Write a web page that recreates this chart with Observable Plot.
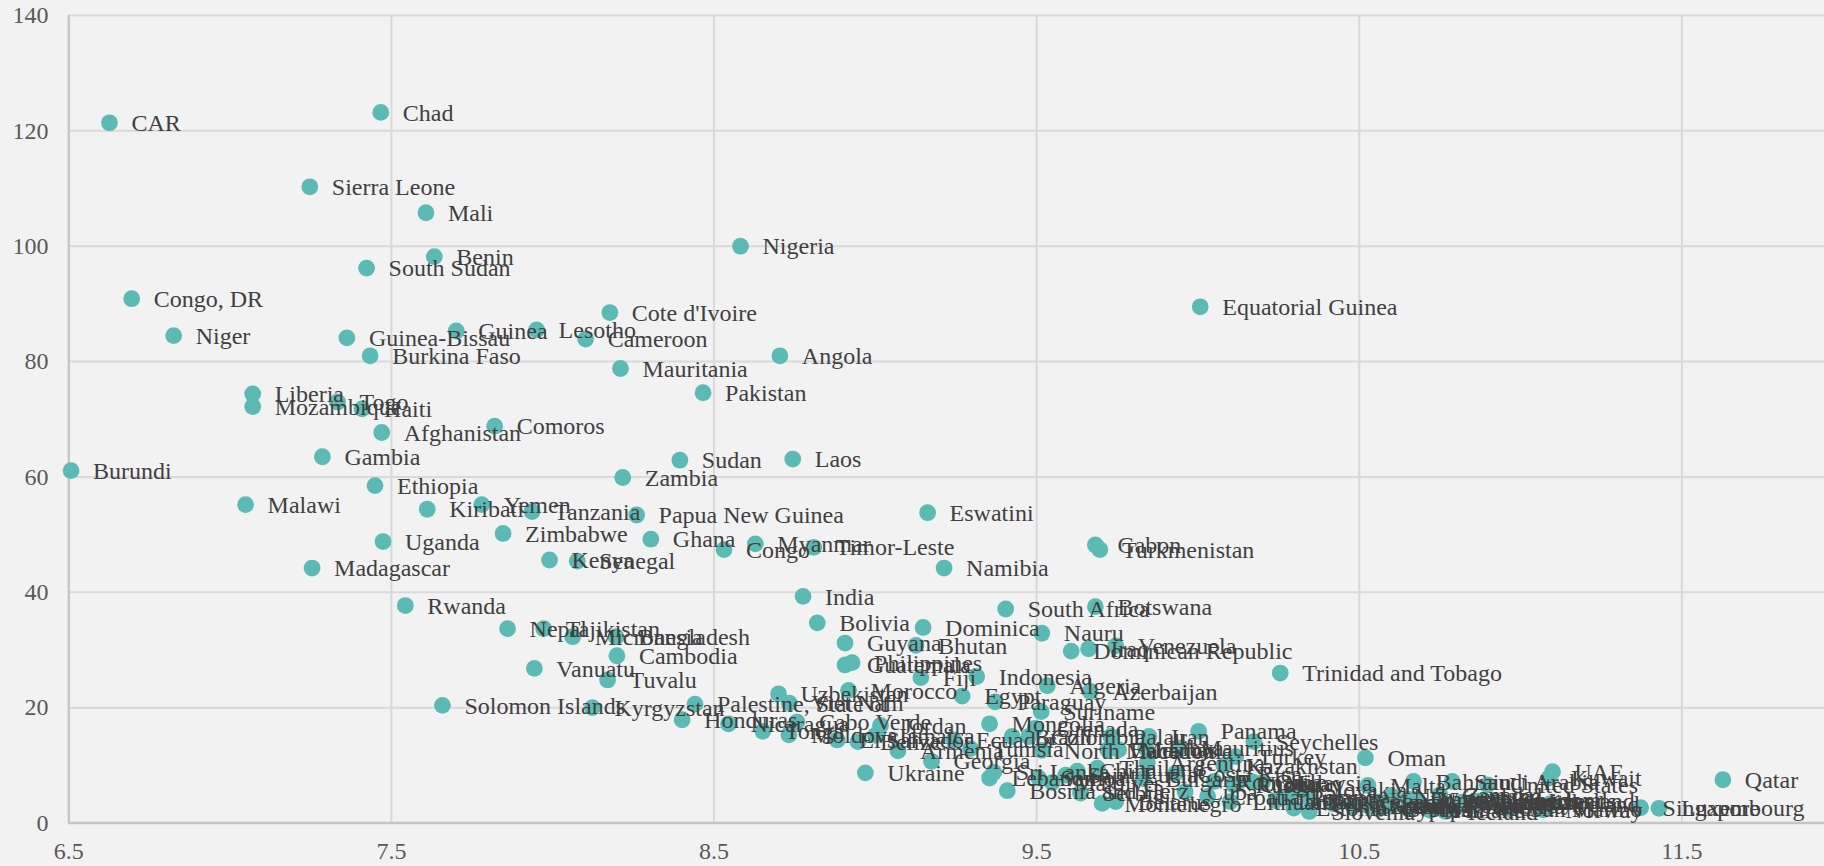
<!DOCTYPE html>
<html><head><meta charset="utf-8">
<script src="https://cdn.jsdelivr.net/npm/d3@7"></script>
<script src="https://cdn.jsdelivr.net/npm/@observablehq/plot@0.6"></script>
<style>html,body{margin:0;padding:0;background:#f2f2f2;overflow:hidden;height:866px}svg{display:block}</style>
</head><body><div id="c"></div>
<script>
const countries = ["CAR","Chad","Sierra Leone","Mali","Benin","South Sudan","Congo, DR","Niger","Guinea-Bissau","Burkina Faso","Guinea","Lesotho","Cameroon","Cote d'Ivoire","Nigeria","Equatorial Guinea","Angola","Mauritania","Pakistan","Liberia","Mozambique","Togo","Haiti","Afghanistan","Comoros","Gambia","Sudan","Laos","Burundi","Zambia","Ethiopia","Malawi","Yemen","Kiribati","Tanzania","Papua New Guinea","Eswatini","Zimbabwe","Uganda","Ghana","Myanmar","Congo","Timor-Leste","Gabon","Turkmenistan","Kenya","Senegal","Madagascar","Namibia","India","Rwanda","South Africa","Botswana","Bolivia","Dominica","Nepal","Tajikistan","Micronesia","Bangladesh","Nauru","Cambodia","Guyana","Bhutan","Iraq","Venezuela","Dominican Republic","Guatemala","Philippines","Vanuatu","Tuvalu","Trinidad and Tobago","Fiji","Indonesia","Algeria","Azerbaijan","Morocco","Uzbekistan","Viet Nam","Egypt","Paraguay","Suriname","Palestine, State of","Kyrgyzstan","Solomon Islands","Honduras","Nicaragua","Tonga","Cabo Verde","Moldova","El Salvador","Belize","Jordan","Jamaica","Armenia","Georgia","Ukraine","Ecuador","Tunisia","Mongolia","Grenada","Brazil","Colombia","North Macedonia","Palau","Iran","Panama","Seychelles","Mauritius","Turkey","Kazakhstan","Argentina","Bahamas","Mexico","Libya","Sri Lanka","Lebanon","Samoa","Maldives","Saint Lucia","China","Thailand","Bosnia and Herz.","Serbia","Montenegro","Belarus","Bulgaria","Costa Rica","Cuba","Romania","Russia","Chile","Uruguay","Malaysia","Croatia","Lithuania","Latvia","Hungary","Poland","Slovakia","Estonia","Slovenia","Greece","Oman","Malta","Portugal","Czechia","Spain","Cyprus","South Korea","Israel","Italy","New Zealand","Japan","France","United Kingdom","Finland","Bahrain","Saudi Arabia","Canada","Belgium","Iceland","Sweden","Germany","Australia","Denmark","Austria","Netherlands","United States","Switzerland","San Marino","Norway","Ireland","UAE","Kuwait","Singapore","Luxembourg","Qatar"];
const logIncome = [6.626,7.467,7.247,7.607,7.633,7.423,6.695,6.825,7.362,7.434,7.701,7.95,8.102,8.177,8.582,10.007,8.704,8.21,8.466,7.07,7.07,7.333,7.409,7.47,7.82,7.286,8.394,8.744,6.507,8.217,7.449,7.048,7.78,7.611,7.936,8.26,9.162,7.846,7.474,8.304,8.628,8.531,8.809,9.682,9.696,7.99,8.076,7.254,9.213,8.776,7.543,9.404,9.682,8.82,9.148,7.86,7.972,8.062,8.196,9.516,8.199,8.906,9.126,9.661,9.745,9.607,8.906,8.928,7.943,8.17,10.255,9.141,9.314,9.533,9.666,8.917,8.70,8.733,9.269,9.371,9.514,8.441,8.123,7.658,8.401,8.545,8.651,8.757,8.732,8.882,8.946,9.016,9.0,9.07,9.174,8.969,9.243,9.295,9.354,9.495,9.424,9.476,9.516,9.73,9.848,10.002,10.173,9.94,10.117,10.08,9.843,9.72,9.754,9.838,9.367,9.354,9.506,9.548,9.59,9.626,9.688,9.409,9.636,9.703,9.745,9.83,9.93,9.96,10.05,10.11,10.17,10.12,10.2,10.03,10.1,10.24,10.26,10.28,10.32,10.297,10.345,10.35,10.519,10.527,10.42,10.48,10.53,10.56,10.56,10.56,10.6,10.6,10.65,10.65,10.68,10.72,10.668,10.788,10.75,10.75,10.767,10.8,10.82,10.82,10.85,10.85,10.87,10.897,10.93,10.96,11.07,11.09,11.099,11.088,11.372,11.429,11.627];
const childMortality = [121.4,123.2,110.3,105.8,98.2,96.2,90.9,84.5,84.1,81.0,85.3,85.5,83.9,88.5,100,89.5,81,78.8,74.6,74.4,72.2,73,71.8,67.7,68.8,63.5,62.9,63.1,61.1,59.9,58.5,55.2,55.2,54.4,54,53.4,53.8,50.2,48.8,49.2,48.4,47.4,47.8,48.2,47.4,45.6,45.4,44.2,44.2,39.3,37.7,37.1,37.5,34.7,33.9,33.7,33.7,32.3,32.3,32.9,29,31.2,30.8,30.2,30.7,29.8,27.4,27.8,26.8,24.8,26,25.2,25.4,23.8,22.8,23,22.4,20.8,22,21,19.3,20.6,20,20.4,17.9,17.2,15.9,17.5,15.3,14.4,14.1,16.9,15.2,12.5,10.7,8.7,14.4,12.9,17.2,16.4,15,15,12.6,15,15,15.9,14.1,13,11.5,10,10.4,12.7,12.7,13,8.8,7.8,7.8,7,8.3,9,9.5,5.6,5.2,3.4,3.7,7.7,8.6,5.4,7.2,6.6,7.1,6.8,7,4.6,3.7,3.9,4.3,4.5,5.7,2.6,2,3.9,11.3,6.5,3.3,2.9,2.9,2.4,3.1,3.6,2.9,4.7,2.5,4.2,4.1,2.2,7.2,7.2,4.9,3.7,2,2.7,3.6,3.6,3.6,3,3.8,6.6,3.8,2.5,2.3,3.3,8.9,7.8,2.65,2.55,7.5];
const xTicks = [6.5,7.5,8.5,9.5,10.5,11.5];
const yTicks = [0,20,40,60,80,100,120,140];
const rows = countries.map((name,i)=>({name,x:logIncome[i],y:childMortality[i]}));

const chart = Plot.plot({
  width:1824,height:866,
  marginLeft:68,marginRight:0,marginTop:15,marginBottom:43.5,
  style:{background:"#f2f2f2",fontFamily:"'Liberation Serif',serif",fontSize:"24px",overflow:"hidden"},
  x:{domain:[6.5,11.942],range:[68.3,1824]},
  y:{domain:[0,140],range:[822.5,15]},
  marks:[
    Plot.gridX(xTicks,{stroke:"#d9d9d9",strokeOpacity:1,strokeWidth:2}),
    Plot.gridY(yTicks,{stroke:"#d9d9d9",strokeOpacity:1,strokeWidth:2}),
    Plot.ruleX([6.5],{stroke:"#c4c4c4",strokeWidth:2}),
    Plot.ruleY([0],{stroke:"#c4c4c4",strokeWidth:2.5}),
    Plot.axisX({ticks:xTicks,tickSize:0,tickPadding:19,label:null,tickFormat:d3.format(".1f"),fill:"#595959",fontSize:24}),
    Plot.axisY({ticks:yTicks,tickSize:0,tickPadding:20,label:null,fill:"#595959",fontSize:24}),
    Plot.dot(rows,{x:"x",y:"y",r:8.4,fill:"#5cbab4",stroke:"none"}),
    Plot.text(rows,{x:"x",y:"y",text:"name",dx:22,dy:0.5,textAnchor:"start",fill:"#404040",fontSize:24})
  ]
});
document.getElementById("c").appendChild(chart);
</script></body></html>
